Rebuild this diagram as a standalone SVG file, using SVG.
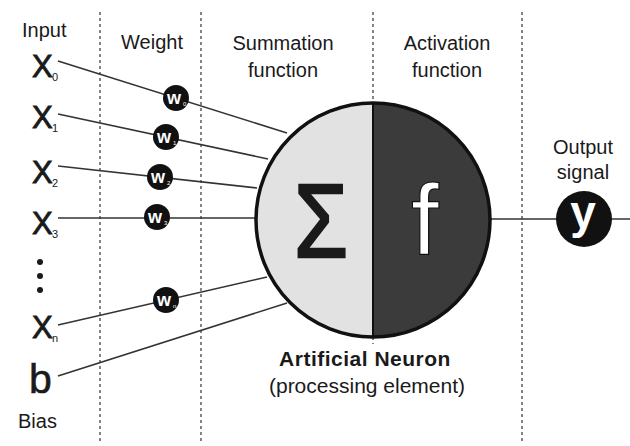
<svg xmlns="http://www.w3.org/2000/svg" width="630" height="446" viewBox="0 0 630 446">
<style>
.t{font-family:"Liberation Sans",Arial,sans-serif;fill:#1a1a1a}
.lbl{font-size:20px}
.x{font-size:31px;stroke:#1a1a1a;stroke-width:0.9}
.sub{font-size:11px}
.dash{stroke:#666;stroke-width:1.6;stroke-dasharray:3 3;fill:none}
.wire{stroke:#333;stroke-width:1.6;fill:none}
.wc{fill:#111}
.wt{font-family:"Liberation Sans",Arial,sans-serif;font-weight:bold;font-size:18px;fill:#fff;text-anchor:middle}
.ws{font-family:"Liberation Sans",Arial,sans-serif;font-size:6px;fill:#fff}
</style>
<rect width="630" height="446" fill="#fff"/>
<g id="guides">
<line class="dash" x1="100" y1="12" x2="100" y2="442"/>
<line class="dash" x1="201" y1="12" x2="201" y2="442"/>
<line class="dash" x1="373" y1="12" x2="373" y2="102"/>
<line class="dash" x1="373" y1="337" x2="373" y2="344"/>
<line class="dash" x1="522" y1="12" x2="522" y2="442"/>
</g>
<g id="headers">
<text class="t lbl" x="22" y="37">Input</text>
<text class="t lbl" x="152" y="49" text-anchor="middle">Weight</text>
<text class="t lbl" x="283" y="50" text-anchor="middle">Summation</text>
<text class="t lbl" x="283" y="77" text-anchor="middle">function</text>
<text class="t lbl" x="447" y="50" text-anchor="middle">Activation</text>
<text class="t lbl" x="447" y="77" text-anchor="middle">function</text>
<text class="t lbl" x="583" y="154" text-anchor="middle">Output</text>
<text class="t lbl" x="583" y="179" text-anchor="middle">signal</text>
<text class="t lbl" x="18" y="428">Bias</text>
</g>
<g id="connectors">
<line class="wire" x1="58" y1="61" x2="287" y2="133"/>
<line class="wire" x1="58" y1="114" x2="268" y2="159"/>
<line class="wire" x1="58" y1="166" x2="257" y2="188"/>
<line class="wire" x1="58" y1="218" x2="256" y2="218"/>
<line class="wire" x1="58" y1="325" x2="267" y2="277"/>
<line class="wire" x1="58" y1="376" x2="287" y2="303"/>
<line class="wire" x1="490" y1="219" x2="630" y2="219"/>
</g>
<g id="inputs">
<g id="x0"><text class="t x" x="32" y="77">X</text><text class="t sub" x="52" y="81">0</text></g>
<g id="x1"><text class="t x" x="32" y="128">X</text><text class="t sub" x="52" y="132">1</text></g>
<g id="x2"><text class="t x" x="32" y="183">X</text><text class="t sub" x="52" y="187">2</text></g>
<g id="x3"><text class="t x" x="32" y="234">X</text><text class="t sub" x="52" y="238">3</text></g>
<g id="dots"><circle cx="40" cy="262" r="3" fill="#1a1a1a"/><circle cx="40" cy="276" r="3" fill="#1a1a1a"/><circle cx="40" cy="290" r="3" fill="#1a1a1a"/></g>
<g id="xn"><text class="t x" x="32" y="338">X</text><text class="t sub" x="52" y="342">n</text></g>
<g id="b"><text class="t" x="29" y="393" font-size="41" stroke="#1a1a1a" stroke-width="0.6">b</text></g>
</g>
<g id="weights">
<g id="w0"><circle class="wc" cx="176" cy="98" r="13"/><text class="wt" x="174" y="104">w</text><text class="ws" x="183" y="106">0</text></g>
<g id="w1"><circle class="wc" cx="166" cy="137" r="13"/><text class="wt" x="164" y="143">w</text><text class="ws" x="173" y="145">1</text></g>
<g id="w2"><circle class="wc" cx="160" cy="177" r="13"/><text class="wt" x="158" y="183">w</text><text class="ws" x="167" y="185">2</text></g>
<g id="w3"><circle class="wc" cx="157" cy="217" r="13"/><text class="wt" x="155" y="223">w</text><text class="ws" x="164" y="225">3</text></g>
<g id="wn"><circle class="wc" cx="166" cy="300" r="13"/><text class="wt" x="164" y="306">w</text><text class="ws" x="173" y="308">n</text></g>
</g>
<g id="neuron">
<path d="M373,103 A117,117 0 0 0 373,337 Z" fill="#e2e2e2"/>
<path d="M373,103 A117,117 0 0 1 373,337 Z" fill="#3b3b3b"/>
<line x1="373" y1="103" x2="373" y2="337" stroke="#111" stroke-width="2"/>
<circle cx="373" cy="220" r="117" fill="none" stroke="#111" stroke-width="3.5"/>
<text x="294" y="257" font-family="Liberation Sans, Arial, sans-serif" font-size="104" fill="#1a1a1a" stroke="#1a1a1a" stroke-width="2.5" textLength="54" lengthAdjust="spacingAndGlyphs">Σ</text>
<text x="425" y="255" text-anchor="middle" font-family="Liberation Sans, Arial, sans-serif" font-size="100" fill="#fff" stroke="#111" stroke-width="1.2">f</text>
<text class="t" x="365" y="366" text-anchor="middle" font-size="21" font-weight="bold" letter-spacing="0.5">Artificial Neuron</text>
<text class="t" x="367" y="393" text-anchor="middle" font-size="21">(processing element)</text>
</g>
<g id="output">
<circle cx="584" cy="219" r="28" fill="#111"/>
<text x="583" y="228" text-anchor="middle" font-family="Liberation Sans, Arial, sans-serif" font-size="46" font-weight="bold" fill="#fff">y</text>
</g>
</svg>
